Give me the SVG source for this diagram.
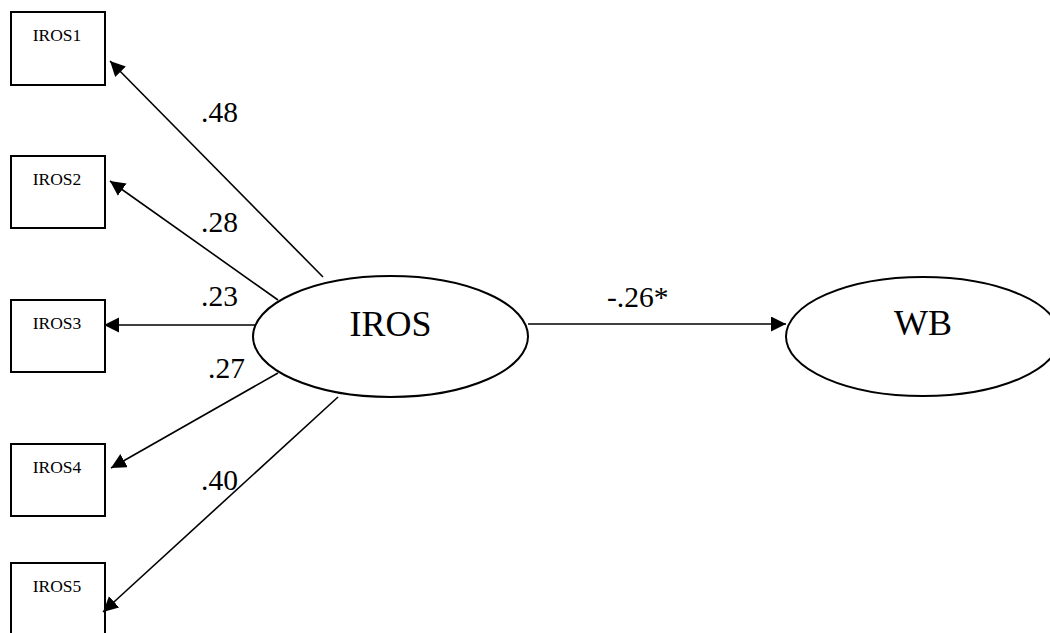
<svg xmlns="http://www.w3.org/2000/svg" width="1050" height="633" viewBox="0 0 1050 633">
  <style>
    .box { fill: #fff; stroke: #000; stroke-width: 2; }
    .lat { fill: #fff; stroke: #000; stroke-width: 2; }
    .obs-t { font-family: "Liberation Serif", "Times New Roman", serif; font-size: 17.5px; text-anchor: middle; fill: #000; }
    .lat-t { font-family: "Liberation Serif", "Times New Roman", serif; font-size: 36px; text-anchor: middle; fill: #000; }
    .coef { font-family: "Liberation Serif", "Times New Roman", serif; font-size: 29.5px; fill: #000; }
    .path { stroke: #000; stroke-width: 1.6; fill: none; marker-end: url(#head); }
  </style>
  <defs>
    <marker id="head" markerUnits="userSpaceOnUse" markerWidth="16" markerHeight="16" refX="15" refY="7.5" orient="auto">
      <path d="M0,0 L15,7.5 L0,15 Z" fill="#000"/>
    </marker>
  </defs>
  <rect width="1050" height="633" fill="#fff"/>

  <!-- observed indicators -->
  <g id="IROS1"><rect class="box" x="11" y="12" width="94" height="73"/><text class="obs-t" x="57" y="41">IROS1</text></g>
  <g id="IROS2"><rect class="box" x="11" y="156" width="94" height="72"/><text class="obs-t" x="57" y="185">IROS2</text></g>
  <g id="IROS3"><rect class="box" x="11" y="300" width="94" height="72"/><text class="obs-t" x="57" y="329">IROS3</text></g>
  <g id="IROS4"><rect class="box" x="11" y="444" width="94" height="72"/><text class="obs-t" x="57" y="473">IROS4</text></g>
  <g id="IROS5"><rect class="box" x="11" y="563" width="94" height="90"/><text class="obs-t" x="57" y="592">IROS5</text></g>

  <!-- latent factors -->
  <g id="IROS"><ellipse class="lat" cx="390.5" cy="336.5" rx="137.5" ry="60.5"/><text class="lat-t" x="390.5" y="336">IROS</text></g>
  <g id="WB"><ellipse class="lat" cx="923" cy="336.5" rx="137" ry="59.5"/><text class="lat-t" x="923" y="335">WB</text></g>

  <!-- loadings and structural path -->
  <g id="connectors">
    <line class="path" x1="323" y1="277" x2="110" y2="61"/>
    <line class="path" x1="278" y1="300" x2="110" y2="181"/>
    <line class="path" x1="255" y1="325" x2="104" y2="325"/>
    <line class="path" x1="278" y1="373" x2="111" y2="468"/>
    <line class="path" x1="338" y1="397" x2="103" y2="612"/>
    <line class="path" x1="528" y1="324" x2="786" y2="324"/>
    <text class="coef" x="201" y="122">.48</text>
    <text class="coef" x="201" y="232">.28</text>
    <text class="coef" x="201" y="306">.23</text>
    <text class="coef" x="208" y="378">.27</text>
    <text class="coef" x="201" y="490">.40</text>
    <text class="coef" x="607" y="307">-.26*</text>
  </g>
</svg>
